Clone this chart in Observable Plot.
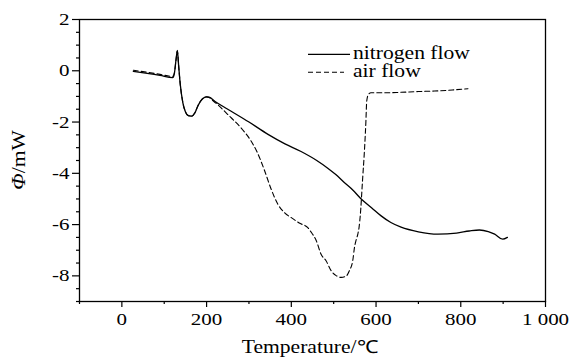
<!DOCTYPE html>
<html>
<head>
<meta charset="utf-8">
<script src="https://cdn.jsdelivr.net/npm/d3@7"></script>
<script src="https://cdn.jsdelivr.net/npm/@observablehq/plot@0.6"></script>
<style>
  html, body { margin: 0; padding: 0; background: #fff; }
  #chart { width: 573px; height: 363px; }
  #chart svg text, #chart svg tspan { font-family: 'Liberation Serif', 'Times New Roman', serif !important; fill: #000; }
  #chart svg g[aria-label$="tick label"] text { font-size: 17.5px !important; }
  #chart svg text.big { font-size: 18px; }
</style>
</head>
<body>
<div id="chart"></div>
<script>
// ---- data ----
const nitrogenTemp = [27, 60, 90, 120, 124, 128, 131, 134, 138, 144, 150, 157, 165, 172, 180, 190, 200, 206, 220, 250, 300, 345, 385, 423, 460, 486, 505, 525, 545, 565, 590, 612, 635, 659, 700, 746, 790, 820, 844, 865, 880, 899, 910];
const nitrogenPhi  = [-0.02, -0.1, -0.18, -0.27, -0.1, 0.45, 0.79, 0.2, -0.55, -1.25, -1.6, -1.75, -1.77, -1.65, -1.35, -1.1, -1.02, -1.03, -1.2, -1.5, -2.0, -2.48, -2.85, -3.15, -3.5, -3.8, -4.05, -4.36, -4.65, -5.0, -5.35, -5.66, -5.92, -6.1, -6.28, -6.37, -6.33, -6.25, -6.21, -6.27, -6.37, -6.57, -6.5];

const airTemp = [27, 60, 90, 120, 124, 128, 131, 134, 138, 144, 150, 157, 165, 172, 180, 190, 200, 206, 211, 230, 254, 266, 285, 305, 320, 337, 352, 368, 385, 400, 420, 439, 447, 459, 470, 482, 494, 505, 518, 530, 537, 545, 549, 553, 557, 560, 563, 568, 573, 576, 578, 582, 588, 620, 659, 700, 738, 780, 817];
const airPhi  = [0.02, -0.06, -0.14, -0.22, -0.08, 0.45, 0.77, 0.2, -0.55, -1.25, -1.6, -1.75, -1.77, -1.65, -1.35, -1.1, -1.02, -1.04, -1.11, -1.38, -1.77, -1.96, -2.3, -2.74, -3.2, -3.9, -4.6, -5.2, -5.55, -5.73, -5.95, -6.12, -6.3, -6.63, -7.15, -7.41, -7.8, -7.98, -8.06, -8.0, -7.8, -7.41, -6.9, -6.6, -6.37, -6.1, -5.6, -4.3, -3.0, -2.0, -1.18, -0.92, -0.86, -0.86, -0.84, -0.81, -0.79, -0.75, -0.7];

const xMajorTicks = [0, 200, 400, 600, 800, 1000];
const xMinorTicks = [-100, 100, 300, 500, 700, 900];
const yMajorTicks = [-8, -6, -4, -2, 0, 2];
const yMinorTicks = [-9, -8.5, -7.5, -7, -6.5, -5.5, -5, -4.5, -3.5, -3, -2.5, -1.5, -1, -0.5, 0.5, 1, 1.5];

const seriesNames = ["nitrogen flow", "air flow"];
const xLabel = "Temperature/℃";

const nitrogen = nitrogenTemp.map((t, i) => ({t, phi: nitrogenPhi[i]}));
const air = airTemp.map((t, i) => ({t, phi: airPhi[i]}));

const FONT = "'Liberation Serif', 'Times New Roman', serif";
const STRETCH = " scale(1.2,1)";

const plot = Plot.plot({
  width: 573,
  height: 363,
  marginLeft: 79,
  marginRight: 28,
  marginTop: 19,
  marginBottom: 62,
  style: {fontFamily: FONT, fontSize: "17px", background: "#fff", color: "#000"},
  x: {domain: [-100, 1000]},
  y: {domain: [-9, 2]},
  marks: [
    Plot.axisX({ticks: xMinorTicks, tickSize: 3, tickFormat: () => "", label: null, strokeWidth: 1.2}),
    Plot.axisX({ticks: xMajorTicks, tickSize: 6, tickPadding: 5, label: null, strokeWidth: 1.2, fontSize: 17.5,
      tickFormat: d => d === 1000 ? "1 000" : String(d)}),
    Plot.axisY({ticks: yMinorTicks, tickSize: 3, tickFormat: () => "", label: null, strokeWidth: 1.2}),
    Plot.axisY({ticks: yMajorTicks, tickSize: 7, tickPadding: 3, label: null, strokeWidth: 1.2, fontSize: 17.5,
      tickFormat: d => String(d)}),
    Plot.frame({stroke: "#000", strokeWidth: 1.3}),
    Plot.line(nitrogen, {x: "t", y: "phi", curve: "monotone-x", stroke: "#000", strokeWidth: 1.3}),
    Plot.line(air, {x: "t", y: "phi", curve: "monotone-x", stroke: "#000", strokeWidth: 1.1, strokeDasharray: "5,3"})
  ]
});

document.getElementById("chart").appendChild(plot);

// the reference glyphs are slightly wider than Times: stretch tick labels horizontally
plot.querySelectorAll('g[aria-label$="tick label"] text').forEach(el => {
  const t = el.getAttribute("transform") || "";
  el.setAttribute("transform", t + STRETCH);
});

// Titles and legend
const svg = d3.select(plot);
svg.append("text").attr("class", "big")
  .attr("transform", "translate(310,353)" + STRETCH)
  .attr("text-anchor", "middle")
  .text(xLabel);

const yl = svg.append("text").attr("class", "big")
  .attr("transform", "translate(25,160) rotate(-90)" + STRETCH)
  .attr("text-anchor", "middle");
yl.append("tspan").attr("font-style", "italic").text("Φ");
yl.append("tspan").text("/mW");

const legend = svg.append("g").attr("text-anchor", "start");
legend.append("line").attr("x1", 308).attr("x2", 350).attr("y1", 54.3).attr("y2", 54.3)
  .attr("stroke", "#000").attr("stroke-width", 1.3);
legend.append("text").attr("class", "big").attr("text-anchor", "start")
  .attr("transform", "translate(353,58.5)" + STRETCH).text(seriesNames[0]);
legend.append("line").attr("x1", 308).attr("x2", 344).attr("y1", 72.3).attr("y2", 72.3)
  .attr("stroke", "#000").attr("stroke-width", 1.1).attr("stroke-dasharray", "5,3");
legend.append("text").attr("class", "big").attr("text-anchor", "start")
  .attr("transform", "translate(353,76.7)" + STRETCH).text(seriesNames[1]);
</script>
</body>
</html>
